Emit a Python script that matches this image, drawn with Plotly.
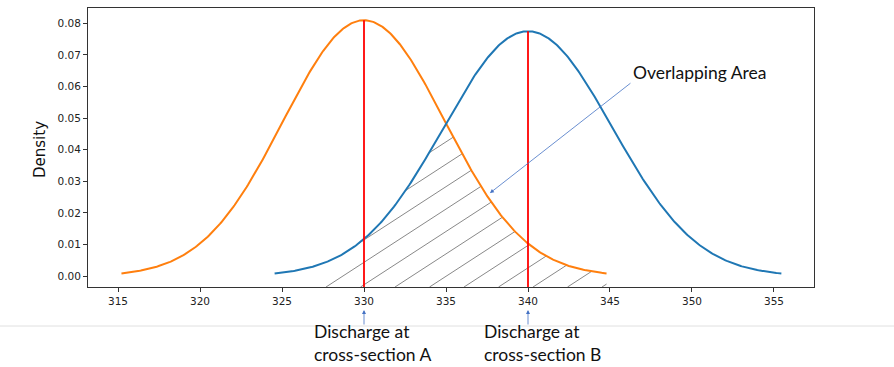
import numpy as np
import plotly.graph_objects as go

# --- data ---
section_names = ["Discharge at cross-section A", "Discharge at cross-section B"]
means = [330.0, 340.0]          # distribution centres
std_devs = [4.93, 5.15]         # distribution spreads
curve_colors = ["#ff7f0e", "#1f77b4"]
x_ticks = [315, 320, 325, 330, 335, 340, 345, 350, 355]
y_ticks = [0.00, 0.01, 0.02, 0.03, 0.04, 0.05, 0.06, 0.07, 0.08]
x_range = [313.17, 357.44]
y_range = [-0.0034, 0.0848]

# plot-area size in pixels (for hatch geometry)
PLOT_W, PLOT_H = 726, 279
HATCH_ANGLE_DEG = 33.0
HATCH_SPACING_PX = 34.5
HATCH_START_X = 325.58


def normal_pdf(x, mu, sd):
    return np.exp(-0.5 * ((x - mu) / sd) ** 2) / (sd * np.sqrt(2 * np.pi))


curves = []
for mu, sd in zip(means, std_devs):
    xs = np.linspace(mu - 3 * sd, mu + 3 * sd, 400)
    curves.append((xs, normal_pdf(xs, mu, sd)))

# overlap region (where both curves exist)
ov_lo = means[1] - 3 * std_devs[1]
ov_hi = means[0] + 3 * std_devs[0]


def overlap_top(x):
    return np.minimum(normal_pdf(x, means[0], std_devs[0]), normal_pdf(x, means[1], std_devs[1]))


# hatch lines clipped to the overlap region
px_x = PLOT_W / (x_range[1] - x_range[0])
px_y = PLOT_H / (y_range[1] - y_range[0])
slope = np.tan(np.radians(HATCH_ANGLE_DEG)) * px_x / px_y
step = HATCH_SPACING_PX / px_x
hx, hy = [], []
k_min = -40
for k in range(k_min, 40):
    c = HATCH_START_X + k * step
    if c >= ov_hi:
        break
    xs = np.linspace(max(c, ov_lo), ov_hi, 4000)
    ys = y_range[0] + slope * (xs - c)
    inside = (ys <= overlap_top(xs)) & (ys >= y_range[0])
    if not inside.any():
        continue
    # find the longest contiguous run
    best, cur_start, best_len = None, None, 0
    for i, v in enumerate(inside):
        if v and cur_start is None:
            cur_start = i
        if (not v or i == len(inside) - 1) and cur_start is not None:
            end = i if v else i - 1
            if end - cur_start + 1 > best_len:
                best_len = end - cur_start + 1
                best = (cur_start, end)
            cur_start = None
    if best is None or best_len < 40:
        continue
    s, e = best
    hx += [xs[s], xs[e], None]
    hy += [ys[s], ys[e], None]

fig = go.Figure()

fig.add_trace(go.Scatter(x=hx, y=hy, mode="lines", line=dict(color="#555555", width=0.7),
                         showlegend=False, hoverinfo="skip", connectgaps=False))

for (xs, ys), col in zip(curves, curve_colors):
    fig.add_trace(go.Scatter(x=xs, y=ys, mode="lines", line=dict(color=col, width=2),
                             showlegend=False))

# red vertical lines at the means up to the peaks
for mu, sd in zip(means, std_devs):
    fig.add_trace(go.Scatter(x=[mu, mu], y=[y_range[0], normal_pdf(mu, mu, sd)],
                             mode="lines", line=dict(color="#ff0000", width=1.8),
                             showlegend=False))

axis_common = dict(showline=True, linecolor="#333333", linewidth=1, mirror=True,
                   ticks="outside", ticklen=4, tickcolor="#333333", showgrid=False,
                   zeroline=False, tickfont=dict(family="DejaVu Sans", size=10.5, color="#222222"))

fig.update_xaxes(range=x_range, tickvals=x_ticks, **axis_common)
fig.update_yaxes(range=y_range, tickvals=y_ticks, tickformat=".2f", **axis_common)

annotations = [
    dict(text="Density", xref="paper", yref="paper", x=0, y=0.491, xshift=-48,
         textangle=-90, showarrow=False, xanchor="center", yanchor="middle",
         font=dict(family="DejaVu Sans", size=15, color="#111111")),
    dict(text="Overlapping Area", xref="paper", yref="paper",
         x=(631 - 88) / 726, y=(287 - 72) / 279, xanchor="left", yanchor="middle",
         showarrow=False, font=dict(family="Lato", size=17.5, color="#111111")),
    dict(text="", x=337.68, y=0.0263, xref="x", yref="y", showarrow=True,
         ax=142, ay=-111, arrowhead=2, arrowsize=1.0, arrowwidth=0.8,
         arrowcolor="#4472c4"),
]

text_x_px = [312, 482]
for mu, name, tx in zip(means, section_names, text_x_px):
    annotations.append(dict(text="", x=mu, xref="x", yref="paper",
                            y=(287 - 310) / 279, showarrow=True, ax=0, ay=16,
                            arrowhead=2, arrowsize=1.0, arrowwidth=0.8,
                            arrowcolor="#4472c4"))
    line1, line2 = name.split(" cross")
    annotations.append(dict(text=line1 + "<br>cross" + line2, xref="paper", yref="paper",
                            x=(tx - 88) / 726, y=(287 - 319) / 279,
                            xanchor="left", yanchor="top", align="left",
                            showarrow=False,
                            font=dict(family="Lato", size=17.5, color="#111111")))

fig.update_layout(
    width=894, height=367,
    margin=dict(l=88, r=80, t=8, b=80),
    paper_bgcolor="white", plot_bgcolor="white",
    annotations=annotations,
    shapes=[dict(type="line", xref="paper", yref="paper",
                 x0=-88 / 726, x1=(894 - 88) / 726,
                 y0=(287 - 326) / 279, y1=(287 - 326) / 279,
                 line=dict(color="#e0e0e0", width=1))],
)

fig.write_html("out.html")
